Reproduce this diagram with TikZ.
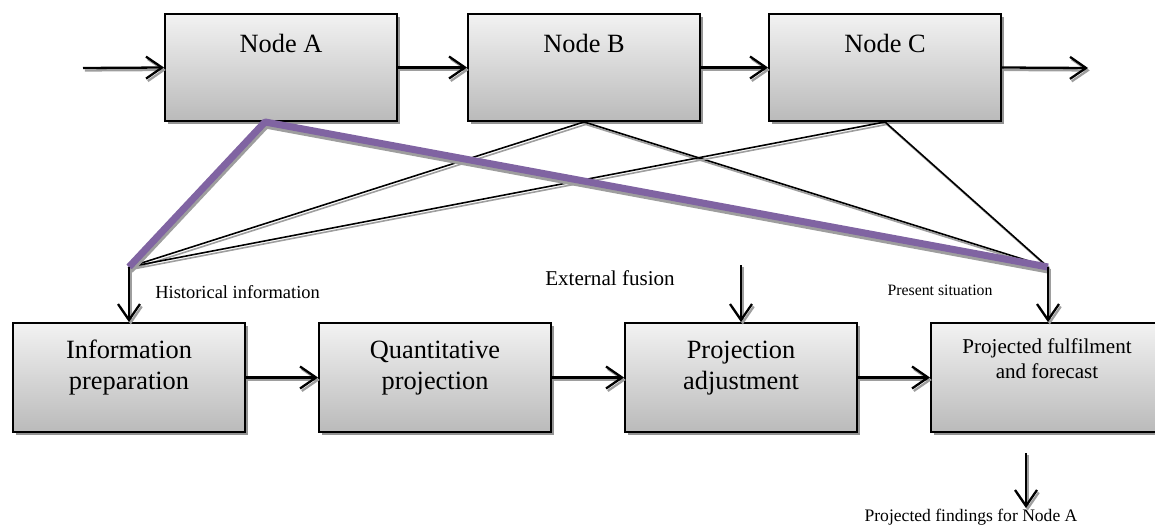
\documentclass[tikz,border=0pt]{standalone}
\usepackage{fontspec}
\setmainfont{Liberation Serif}
\usetikzlibrary{arrows.meta, shadows}

\definecolor{lineviolet}{HTML}{8064A2}

\begin{document}
\begin{tikzpicture}

% --- Define reusable styles and key coordinates ---
\tikzset{
    procbox/.style={
        draw, line width=1.1pt, top color=black!5, bottom color=black!27,
        drop shadow={shadow xshift=1.8pt, shadow yshift=-1.8pt, fill=black!42, opacity=1},
        minimum width=4.64cm, inner xsep=0pt, inner ysep=0pt, align=center
    },
    topbox/.style={procbox, minimum height=2.14cm, text height=0.76cm, text depth=1.38cm,
        font=\fontsize{15}{18}\selectfont},
    % with align the baseline is the last line, so text height reaches down to it
    lowbox/.style={procbox, minimum height=2.18cm, text height=1.335cm, text depth=0.845cm,
        font=\fontsize{15}{18}\selectfont},
    shadowline/.style={preaction={draw=black!38, line width=#1, transform canvas={shift={(1pt,-1.4pt)}}}},
    flow/.style={shadowline=1.3pt, line width=1.3pt, -{Straight Barb[length=3.2mm, width=4.4mm]}},
    link/.style={shadowline=0.9pt, line width=0.9pt},
    mainlink/.style={
        preaction={draw=black!38, line width=4pt, transform canvas={shift={(0.6pt,-1.8pt)}}},
        draw=lineviolet, line width=4pt, line join=bevel
    },
    note/.style={inner sep=0pt}
}
% Vertical levels of the two rows and of the joining points
\def\toprow{-1.35}
\def\lowrow{-7.55}
\def\joinlevel{-5.34}

\useasboundingbox (0,0) rectangle (23.1,-10.62);

% 1. Top row of nodes
\node[topbox] (nodea) at (5.62,\toprow) {Node A};
\node[topbox] (nodeb) at (11.68,\toprow) {Node B};
\node[topbox] (nodec) at (17.70,\toprow) {Node C};

% 2. Lower row of process boxes
\node[lowbox] (prep) at (2.58,\lowrow) {Information\\preparation};
\node[lowbox] (quant) at (8.70,\lowrow) {Quantitative\\projection};
\node[lowbox] (adjust) at (14.82,\lowrow) {Projection\\adjustment};
\node[lowbox, font=\fontsize{12}{14.6}\selectfont, text height=1.115cm, text depth=1.065cm] (fulfil) at (20.94,\lowrow) {Projected fulfilment\\and forecast};

% 3. Joining points and free ends
\coordinate (histjoin) at (prep.north |- 0,\joinlevel);
\coordinate (nowjoin) at (20.96,\joinlevel);
\coordinate (abottom) at ([xshift=-0.32cm]nodea.south);
\coordinate (flowin) at (1.66,-1.36);
\coordinate (flowout) at (21.76,-1.36);
\coordinate (extin) at (adjust.north |- 0,-5.30);
\coordinate (resultstart) at (20.52,-9.06);
\coordinate (resultend) at (20.52,-10.16);

% 4. Flow along the top row
\draw[flow] (flowin) -- (nodea.west);
\draw[flow] (nodea.east) -- (nodeb.west);
\draw[flow] (nodeb.east) -- (nodec.west);
\draw[flow] (nodec.east) -- (flowout);

% 5. Links from the top row down to the joining points
\draw[link] (nodeb.south) -- (histjoin);
\draw[link] (nodeb.south) -- (nowjoin);
\draw[link] (nodec.south) -- (histjoin);
\draw[link] (nodec.south) -- (nowjoin);
\draw[mainlink] (histjoin) -- (abottom) -- (nowjoin);

% 6. Flow along the lower row
\draw[flow] (histjoin) -- (prep.north);
\draw[flow] (nowjoin) -- (fulfil.north -| nowjoin);
\draw[flow] (extin) -- (adjust.north);
\draw[flow] (prep.east) -- (quant.west);
\draw[flow] (quant.east) -- (adjust.west);
\draw[flow] (adjust.east) -- (fulfil.west);
\draw[flow] (resultstart) -- (resultend);

% 7. Labels
\node[note, font=\fontsize{10.5}{12}\selectfont, anchor=west] (histlabel) at (3.10,-5.84) {Historical information};
\node[note, font=\fontsize{12}{14}\selectfont] (extlabel) at (12.2,-5.56) {External fusion};
\node[note, font=\fontsize{9}{11}\selectfont] (nowlabel) at (18.8,-5.80) {Present situation};
\node[note, font=\fontsize{10}{12}\selectfont] (outlabel) at (19.42,-10.34) {Projected findings for Node A};

\end{tikzpicture}
\end{document}
